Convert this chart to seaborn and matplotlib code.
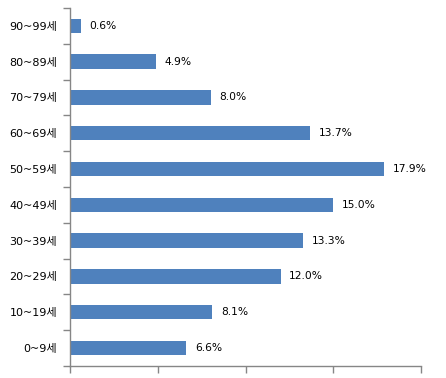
import numpy as np
import pandas as pd
import matplotlib
matplotlib.use('Agg')
import matplotlib.pyplot as plt
import seaborn as sns

ages = ['0~9세', '10~19세', '20~29세', '30~39세', '40~49세',
        '50~59세', '60~69세', '70~79세', '80~89세', '90~99세']
share = [6.6, 8.1, 12.0, 13.3, 15.0, 17.9, 13.7, 8.0, 4.9, 0.6]

df = pd.DataFrame({'age': ages, 'share': share})
order = ages[::-1]

sns.set_style('white')
plt.rcParams['font.family'] = ['DejaVu Sans', 'Noto Sans CJK KR']
plt.rcParams['text.color'] = 'black'
plt.rcParams['ytick.labelcolor'] = 'black'

fig = plt.figure(figsize=(4.46, 3.78), dpi=100)
ax = fig.add_axes([0.158, 0.032, 0.785, 0.947])
sns.barplot(data=df, x='share', y='age', order=order, color='#4F81BD',
            saturation=1, width=0.4, linewidth=0, ax=ax)

for i, a in enumerate(order):
    v = df.loc[df['age'] == a, 'share'].iloc[0]
    ax.text(v + 0.5, i, f'{v:.1f}%', va='center', ha='left', fontsize=7.7, color='black')

ax.set_xlim(0, 20)
ax.set_ylim(len(order) - 0.5, -0.5)
ax.set_xticks([0, 5, 10, 15, 20])
ax.set_xticklabels([])
ax.set_yticks(range(len(order)))
ax.set_yticklabels(order, fontsize=8)
ax.set_yticks(np.arange(-0.5, len(order)), minor=True)
ax.tick_params(axis='y', which='major', length=0, pad=9.5)
ax.tick_params(axis='y', which='minor', length=5, color='#868686', width=1, direction='out', left=True)
ax.tick_params(axis='x', length=5, color='#868686', width=1, direction='out', bottom=True)
ax.set_xlabel('')
ax.set_ylabel('')
for s in ['top', 'right']:
    ax.spines[s].set_visible(False)
for s in ['left', 'bottom']:
    ax.spines[s].set_color('#868686')
    ax.spines[s].set_linewidth(1)

fig.savefig('out.png', dpi=100)
